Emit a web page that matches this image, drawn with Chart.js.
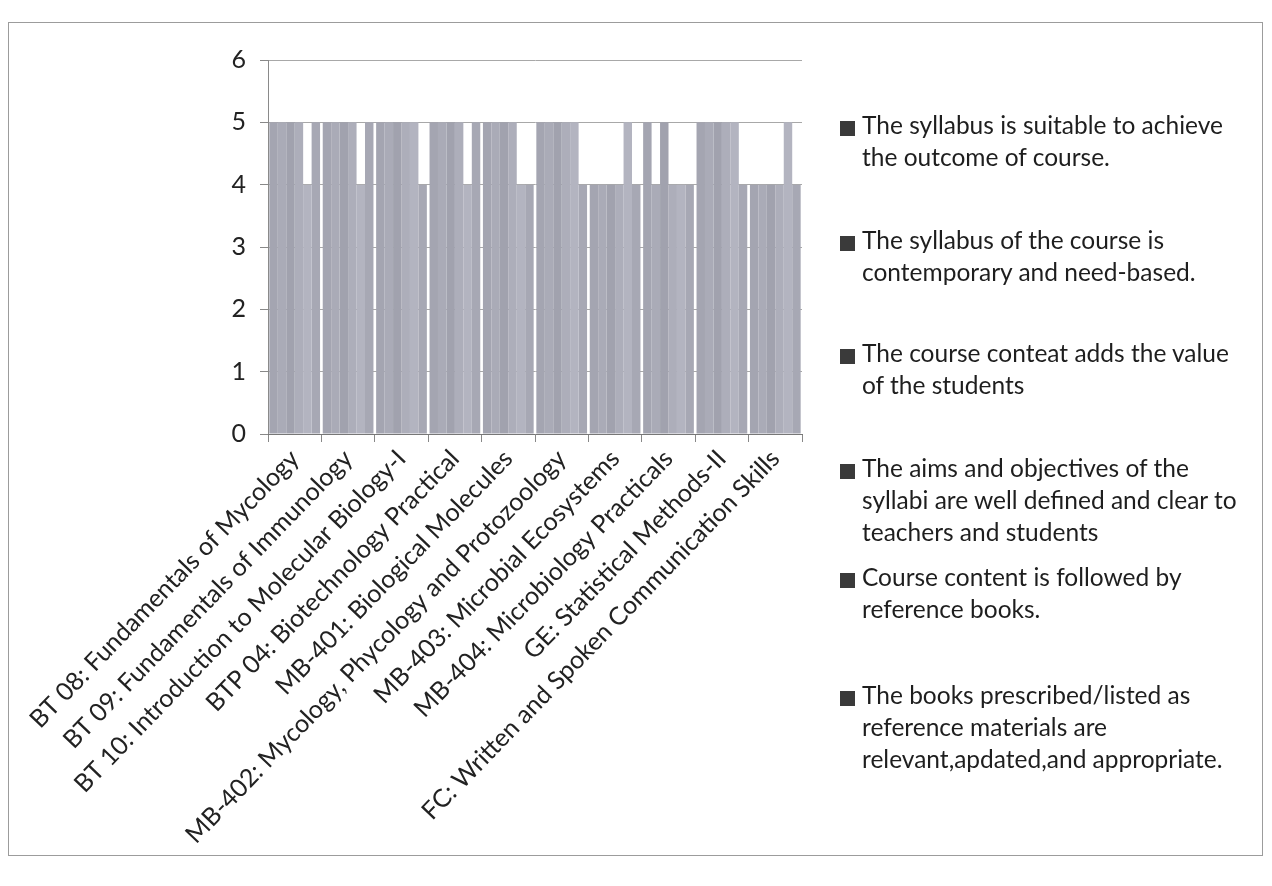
<!DOCTYPE html>
<html>
<head>
<meta charset="utf-8">
<script src="https://cdn.jsdelivr.net/npm/chart.js@4/dist/chart.umd.min.js"></script>
<style>
  html, body { margin: 0; padding: 0; background: #ffffff; }
  #wrap { position: relative; width: 1272px; height: 886px; overflow: hidden; }
  #frame { position: absolute; left: 8px; top: 22px; width: 1253px; height: 832px; border: 1px solid #9c9c9c; }
  #chart { position: absolute; left: 0; top: 0; }
  #legend { position: absolute; left: 0; top: 0; margin: 0; padding: 0; list-style: none;
            font-family: Lato, "Open Sans", sans-serif; font-size: 24.5px; line-height: 32px; color: #1e1e1e; }
  #legend li { position: absolute; left: 862px; width: 410px; white-space: nowrap; }
  #legend li span.box { position: absolute; left: -22px; top: 12px; width: 15px; height: 15px; background: #3a3a3a; }
</style>
</head>
<body>
<div id="wrap">
  <div id="frame"></div>
  <canvas id="chart" width="1272" height="886"></canvas>
  <ul id="legend"></ul>
</div>
<script>
// Courses on the category axis
const categories = [
  "BT 08: Fundamentals of Mycology",
  "BT 09: Fundamentals of Immunology",
  "BT 10: Introduction to Molecular Biology-I",
  "BTP 04: Biotechnology Practical",
  "MB-401: Biological Molecules",
  "MB-402: Mycology, Phycology and Protozoology",
  "MB-403: Microbial Ecosystems",
  "MB-404: Microbiology Practicals",
  "GE: Statistical Methods-II",
  "FC: Written and Spoken Communication Skills"
];

// Feedback statements (one series each)
const statements = [
  "The syllabus is suitable to achieve the outcome of course.",
  "The syllabus of the course is contemporary and need-based.",
  "The course conteat adds the value of the students",
  "The aims and objectives of the syllabi are well defined and clear to teachers and students",
  "Course content is followed by reference books.",
  "The books prescribed/listed as reference materials are relevant,apdated,and appropriate."
];

// Wrapped lines for the side legend
const legendLines = [
  ["The syllabus is suitable to achieve", "the outcome of course."],
  ["The syllabus of the course is", "contemporary and need-based."],
  ["The course conteat adds the value", "of the students"],
  ["The aims and objectives of the", "syllabi are well defined and clear to", "teachers and students"],
  ["Course content is followed by", "reference books."],
  ["The books prescribed/listed as", "reference materials are", "relevant,apdated,and appropriate."]
];

// Ratings per statement, one value per course
const suitable     = [5, 5, 5, 5, 5, 5, 4, 5, 5, 4];
const contemporary = [5, 5, 5, 5, 5, 5, 4, 4, 5, 4];
const addsValue    = [5, 5, 5, 5, 5, 5, 4, 5, 5, 4];
const aimsClear    = [5, 5, 5, 5, 5, 5, 4, 4, 5, 4];
const followsBooks = [4, 4, 5, 4, 4, 5, 5, 4, 5, 5];
const booksRelevant= [5, 5, 4, 5, 4, 4, 4, 4, 4, 4];

const yTicks = [0, 1, 2, 3, 4, 5, 6];

const seriesValues = [suitable, contemporary, addsValue, aimsClear, followsBooks, booksRelevant];
const seriesColors = ["#a4a5b1", "#aaabb7", "#a1a2ae", "#adaeba", "#b3b4c0", "#a7a8b4"];

// Side legend, two or three lines per statement
const legendList = document.getElementById("legend");
const legendTops = [109, 224, 337, 452, 561, 679];
legendLines.forEach((lines, i) => {
  const li = document.createElement("li");
  li.style.top = legendTops[i] + "px";
  li.title = statements[i];
  const box = document.createElement("span");
  box.className = "box";
  li.appendChild(box);
  lines.forEach((t, k) => {
    if (k) li.appendChild(document.createElement("br"));
    li.appendChild(document.createTextNode(t));
  });
  legendList.appendChild(li);
});

new Chart(document.getElementById("chart"), {
  type: "bar",
  data: {
    labels: categories,
    datasets: seriesValues.map((vals, i) => ({
      label: statements[i],
      data: vals,
      backgroundColor: seriesColors[i],
      borderWidth: 0,
      categoryPercentage: 0.95,
      barPercentage: 1.0
    }))
  },
  options: {
    responsive: false,
    animation: false,
    devicePixelRatio: 1,
    layout: { padding: { left: 200, top: 60, right: 470, bottom: 0 } },
    plugins: { legend: { display: false }, tooltip: { enabled: false } },
    scales: {
      y: {
        min: 0, max: 6,
        afterFit: s => { s.width = 68; },
        afterBuildTicks: s => { s.ticks = yTicks.map(v => ({ value: v })); },
        ticks: { padding: 14, color: "#222", font: { family: "Lato, 'Open Sans', sans-serif", size: 25 } },
        grid: { color: "#a8a8a8", lineWidth: 1, tickLength: 8, tickColor: "#888" },
        border: { color: "#8a8a8a", width: 1 }
      },
      x: {
        afterFit: s => { s.height = 452; },
        ticks: {
          autoSkip: false, minRotation: 46, maxRotation: 46, padding: 2,
          color: "#222", font: { family: "Lato, 'Open Sans', sans-serif", size: 25 }
        },
        grid: { offset: true, drawOnChartArea: false, tickLength: 8, color: "#888" },
        border: { color: "#777", width: 1 }
      }
    }
  }
});
</script>
</body>
</html>
